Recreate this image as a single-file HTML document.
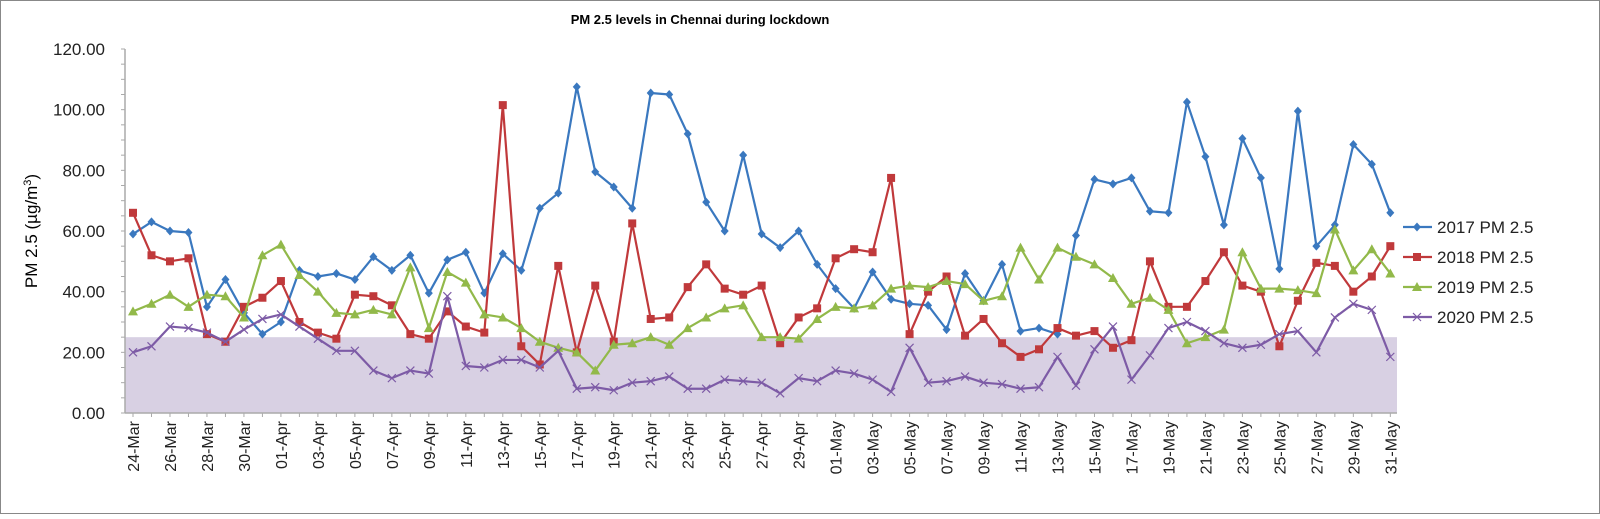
<!DOCTYPE html>
<html><head><meta charset="utf-8"><style>
body{margin:0;background:#fff;font-family:"Liberation Sans",sans-serif}
</style></head><body>
<svg id="chart" width="1600" height="514" xmlns="http://www.w3.org/2000/svg" font-family="Liberation Sans, sans-serif">
<rect x="0.5" y="0.5" width="1599" height="513" fill="#fff" stroke="#888"/>
<text x="700" y="24" text-anchor="middle" font-size="13" font-weight="bold">PM 2.5 levels in Chennai during lockdown</text>
<text transform="translate(37,231) rotate(-90)" text-anchor="middle" font-size="17">PM 2.5 (µg/m<tspan baseline-shift="super" font-size="11">3</tspan>)</text>
<g id="plot"></g>
</svg>
<script>
const years = ["2017 PM 2.5","2018 PM 2.5","2019 PM 2.5","2020 PM 2.5"];
const s2017 = [59,63,60,59.5,35,44,33,26,30,47,45,46,44,51.5,47,52,39.5,50.5,53,39.5,52.5,47,67.5,72.5,107.5,79.5,74.5,67.5,105.5,105,92,69.5,60,85,59,54.5,60,49,41,34.5,46.5,37.5,36,35.5,27.5,46,37,49,27,28,26,58.5,77,75.5,77.5,66.5,66,102.5,84.5,62,90.5,77.5,47.5,99.5,55,62,88.5,82,66];
const s2018 = [66,52,50,51,26,23.5,35,38,43.5,30,26.5,24.5,39,38.5,35.5,26,24.5,33.5,28.5,26.5,101.5,22,16,48.5,20,42,23.5,62.5,31,31.5,41.5,49,41,39,42,23,31.5,34.5,51,54,53,77.5,26,40,45,25.5,31,23,18.5,21,28,25.5,27,21.5,24,50,35,35,43.5,53,42,40,22,37,49.5,48.5,40,45,55];
const s2019 = [33.5,36,39,35,39,38.5,31.5,52,55.5,45.5,40,33,32.5,34,32.5,48,28,46.5,43,32.5,31.5,28,23.5,21.5,20,14,22.5,23,25,22.5,28,31.5,34.5,35.5,25,25,24.5,31,35,34.5,35.5,41,42,41.5,43.5,42.5,37,38.5,54.5,44,54.5,51.5,49,44.5,36,38,34,23,25,27.5,53,41,41,40.5,39.5,60.5,47,54,46];
const s2020 = [20,22,28.5,28,26.5,23.5,27.5,31,32.5,28.5,24.5,20.5,20.5,14,11.5,14,13,38.5,15.5,15,17.5,17.5,15,20.5,8,8.5,7.5,10,10.5,12,8,8,11,10.5,10,6.5,11.5,10.5,14,13,11,7,21.5,10,10.5,12,10,9.5,8,8.5,18.5,9,21,28.5,11,19,28,30,27,23,21.5,22.5,26,27,20,31.5,36,34,18.5];
const yTicks = [0,20,40,60,80,100,120];
const bandTop = 25;
const months=["Mar","Apr","May"];
const NS="http://www.w3.org/2000/svg";
const g=document.getElementById('plot');
const X0=133, DX=18.49, Y0=413, YS=364/120, PL=125, PR=1397;
const x=i=>X0+DX*i, y=v=>Y0-v*YS;
function el(t,a){const e=document.createElementNS(NS,t);for(const k in a)e.setAttribute(k,a[k]);g.appendChild(e);return e;}
// labels for dates
function dateLabel(i){const d=new Date(2020,2,24+i);const dd=String(d.getDate()).padStart(2,'0');return dd+'-'+months[d.getMonth()-2];}
let band=el('rect',{x:PL,y:y(bandTop),width:PR-PL,height:y(0)-y(bandTop),fill:'#d8d0e3'});


let ax=el('line',{x1:PL,y1:49,x2:PL,y2:Y0,stroke:'#aaa','stroke-width':1.5});


let bx=el('line',{x1:PL,y1:Y0,x2:PR,y2:Y0,stroke:'#aaa','stroke-width':1.5});


for(let v=0;v<=120;v+=5){el('line',{x1:PL-4,y1:y(v),x2:PL,y2:y(v),stroke:'#aaa'});}
yTicks.forEach(v=>{const t=el('text',{x:PL-20,y:y(v)+6,'text-anchor':'end','font-size':17,fill:'#222'});t.textContent=v.toFixed(2);

});
for(let i=0;i<s2017.length;i++){
 el('line',{x1:x(i),y1:Y0,x2:x(i),y2:Y0+4,stroke:'#aaa'});
 if(i%2===0||i===s2017.length-1){
  const t=el('text',{transform:`translate(${x(i)+6},${Y0+8}) rotate(-90)`,'text-anchor':'end','font-size':16,fill:'#222'});
  t.textContent=dateLabel(i);
  
  
 }
}
const cols=['#3a78bf','#c0393b','#92b94a','#7d5ba6'];
const series=[s2017,s2018,s2019,s2020];
function marker(k,cx,cy){
 let m;
 if(k===0)m=el('polygon',{points:`${cx},${cy-4.5} ${cx+4},${cy} ${cx},${cy+4.5} ${cx-4},${cy}`,fill:cols[0]});
 else if(k===1)m=el('rect',{x:cx-4,y:cy-4,width:8,height:8,fill:cols[1]});
 else if(k===2)m=el('polygon',{points:`${cx},${cy-5} ${cx+5},${cy+4} ${cx-5},${cy+4}`,fill:cols[2]});
 else m=el('path',{d:`M${cx-4} ${cy-4}L${cx+4} ${cy+4}M${cx-4} ${cy+4}L${cx+4} ${cy-4}`,stroke:cols[3],'stroke-width':1.2,fill:'none'});
 return m;
}
series.forEach((s,k)=>{
 const p=el('polyline',{points:s.map((v,i)=>x(i)+','+y(v)).join(' '),fill:'none',stroke:cols[k],'stroke-width':2.2,'stroke-linejoin':'round'});
 
 
 s.forEach((v,i)=>{const m=marker(k,x(i),y(v));
  
  });
 const ly=227+k*30;
 const ll=el('line',{x1:1403,y1:ly,x2:1432,y2:ly,stroke:cols[k],'stroke-width':2.2});
 
 
 marker(k,1417,ly);
 const t=el('text',{x:1437,y:ly+6,'font-size':17,fill:'#222'});t.textContent=years[k];
 
 
});
</script>
</body></html>
